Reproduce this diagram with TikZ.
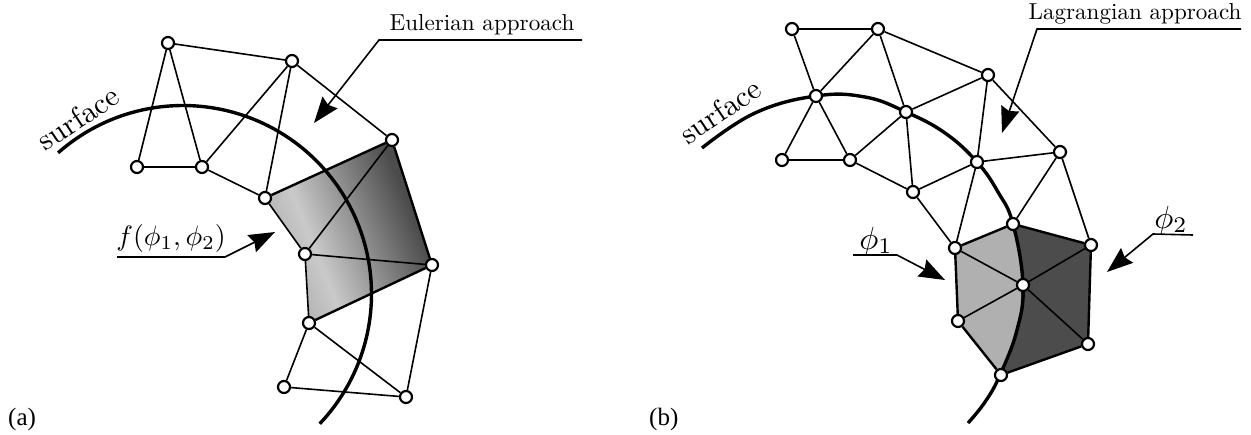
\documentclass[tikz,border=0pt]{standalone}
\usepackage{fontspec}
\newfontfamily\tnr{Liberation Serif}
\usetikzlibrary{arrows.meta,backgrounds}
\pgfdeclarehorizontalshading{eulershade}{100bp}{
  color(0bp)=(black!29); color(30bp)=(black!29); color(39bp)=(black!21);
  color(69bp)=(black!70); color(100bp)=(black!70)}
\definecolor{lightcell}{gray}{0.69}
\definecolor{darkcell}{gray}{0.30}
\tikzset{
  vertex/.style={circle,draw=black,fill=white,line width=2.2pt,inner sep=0pt,minimum size=12pt},
  meshline/.style={line width=1.6pt,black},
  rimline/.style={line width=2.4pt,black},
  surfaceline/.style={line width=3.4pt,black},
  pointer/.style={line width=1.6pt,black,-{Stealth[length=26pt,width=19pt,inset=3pt]}},
  lbl/.style={inner sep=0pt,anchor=base,scale=2.31},
  surflbl/.style={inner sep=0pt,anchor=center,scale=3.0},
  mathlbl/.style={inner sep=0pt,anchor=base,scale=2.8},
  bigmath/.style={inner sep=0pt,anchor=base,scale=3.2},
  panel/.style={inner sep=0pt,anchor=base west,font=\tnr\fontsize{25}{28}\selectfont},
}
\begin{document}
\begin{tikzpicture}[x=1pt,y=-1pt]
\useasboundingbox (0,0) rectangle (1251,434);
% ---------- panel (a) vertices
\node[vertex] (a1) at (168,43) {};
\node[vertex] (a2) at (292,61) {};
\node[vertex] (a3) at (392,140) {};
\node[vertex] (a4) at (137,167) {};
\node[vertex] (a5) at (202,167) {};
\node[vertex] (a6) at (265,198) {};
\node[vertex] (a7) at (305,254) {};
\node[vertex] (a8) at (432,265) {};
\node[vertex] (a9) at (309,323) {};
\node[vertex] (a10) at (284,387) {};
\node[vertex] (a11) at (406,397) {};
\begin{pgfonlayer}{background}
\path[shading=eulershade,shading angle=22] (a6.center) -- (a3.center) -- (a8.center) -- (a9.center) -- (a7.center) -- cycle;
\draw[surfaceline] plot[domain=-43.5:131.5,samples=70,smooth] ({183+188.5*cos(\x)},{294-188.5*sin(\x)});
\end{pgfonlayer}
\draw[meshline] (a1)--(a2) (a1)--(a4) (a1)--(a5) (a4)--(a5) (a5)--(a2) (a2)--(a6) (a5)--(a6)
  (a2)--(a3) (a6)--(a7) (a7)--(a3) (a7)--(a8) (a7)--(a9) (a9)--(a10) (a9)--(a11) (a10)--(a11) (a8)--(a11);
\draw[rimline] (a6)--(a3) (a3)--(a8) (a8)--(a9);
% ---------- panel (b) vertices
\node[vertex] (b1) at (792,29) {};
\node[vertex] (b2) at (878,29) {};
\node[vertex] (b3) at (988,75) {};
\node[vertex] (b4) at (816,96) {};
\node[vertex] (b5) at (906,112) {};
\node[vertex] (b6) at (782,160) {};
\node[vertex] (b7) at (850,160) {};
\node[vertex] (b8) at (977,162) {};
\node[vertex] (b9) at (1060,152) {};
\node[vertex] (b10) at (913,192) {};
\node[vertex] (b11) at (1013,224) {};
\node[vertex] (b12) at (955,248) {};
\node[vertex] (b13) at (1091,245) {};
\node[vertex] (b14) at (1023,285) {};
\node[vertex] (b15) at (958,321) {};
\node[vertex] (b16) at (1088,344) {};
\node[vertex] (b17) at (1001,375) {};
\begin{pgfonlayer}{background}
\fill[lightcell] (b12.center) -- (b11.center) .. controls (1022,250) and (1030,325) .. (b17.center) -- (b15.center) -- cycle;
\fill[darkcell] (b11.center) -- (b13.center) -- (b16.center) -- (b17.center) .. controls (1030,325) and (1022,250) .. (b11.center) -- cycle;
\draw[surfaceline] plot[smooth,tension=0.7] coordinates {(702,148) (755,113) (816,96) (865,97) (906,112) (945,133) (977,162) (998,192) (1013,224) (1023,285) (1017,330) (1000,375) (985,402) (968,423)};
\end{pgfonlayer}
\draw[meshline] (b1)--(b2) (b1)--(b4) (b2)--(b4) (b2)--(b5) (b2)--(b3) (b3)--(b5) (b3)--(b8) (b3)--(b9)
  (b4)--(b6) (b4)--(b7) (b6)--(b7) (b5)--(b7) (b5)--(b10) (b7)--(b10) (b10)--(b8) (b8)--(b9) (b8)--(b12)
  (b9)--(b11) (b9)--(b13) (b10)--(b12) (b12)--(b14) (b15)--(b14) (b13)--(b14) (b14)--(b16);
\draw[rimline] (b12)--(b11) (b11)--(b13) (b13)--(b16) (b16)--(b17) (b17)--(b15) (b15)--(b12);
% ---------- pointers
\coordinate (p1s) at (582,40); \coordinate (p1m) at (379,40); \coordinate (p1t) at (314,123);
\coordinate (p2s) at (117,257); \coordinate (p2m) at (225,257); \coordinate (p2t) at (275,232);
\coordinate (p3s) at (1241,29); \coordinate (p3m) at (1037,29); \coordinate (p3t) at (1002,133);
\coordinate (p4s) at (853,255); \coordinate (p4m) at (897,255); \coordinate (p4t) at (945,280);
\coordinate (p5s) at (1193,235); \coordinate (p5m) at (1153,234); \coordinate (p5t) at (1107,272);
\draw[pointer] (p1s) -- (p1m) -- (p1t);
\draw[pointer] (p2s) -- (p2m) -- (p2t);
\draw[pointer] (p3s) -- (p3m) -- (p3t);
\draw[pointer] (p4s) -- (p4m) -- (p4t);
\draw[pointer] (p5s) -- (p5m) -- (p5t);
% ---------- labels
\node[lbl] (t1) at (482,30) {Eulerian approach};
\node[lbl] (t2) at (1135,19) {Lagrangian approach};
\node[surflbl,rotate=33.7] (t3) at (78,118) {surface};
\node[surflbl,rotate=34] (t4) at (720,111) {surface};
\node[mathlbl] (t5) at (171,245) {$f(\phi_1,\phi_2)$};
\node[bigmath] (t6) at (876,249) {$\phi_1$};
\node[bigmath] (t7) at (1171,228) {$\phi_2$};
\node[panel] (t8) at (8,425) {(a)};
\node[panel] (t9) at (649,425) {(b)};
\end{tikzpicture}
\end{document}
